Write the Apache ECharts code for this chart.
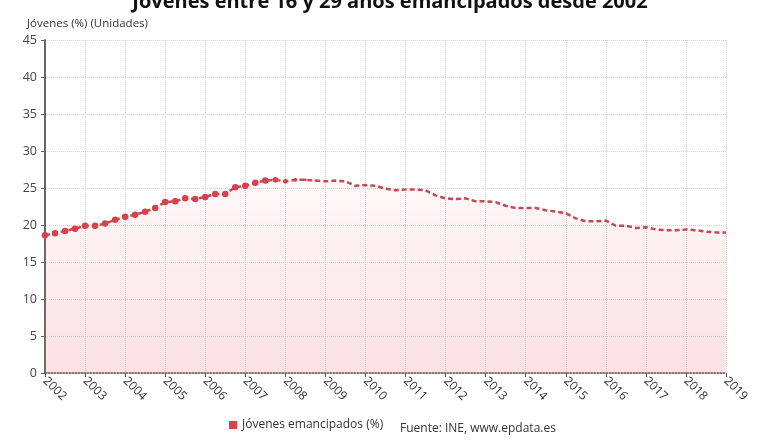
<!DOCTYPE html>
<html>
<head>
<meta charset="utf-8">
<script src="https://cdn.jsdelivr.net/npm/echarts@6/dist/echarts.min.js"></script>
<style>html,body{margin:0;padding:0;background:#fff}#c{width:780px;height:440px}</style>
</head>
<body>
<div id="c"></div>
<script>
var years = ['2002','2003','2004','2005','2006','2007','2008','2009','2010','2011','2012','2013','2014','2015','2016','2017','2018','2019'];
var quarters = [];
years.forEach(function(y, i){
  if (i < years.length - 1) { for (var q = 1; q <= 4; q++) quarters.push(y + 'T' + q); }
  else quarters.push(y + 'T1');
});
var emancipados = [
  18.6, 18.9, 19.2, 19.5,
  19.9, 19.9, 20.2, 20.7,
  21.1, 21.4, 21.8, 22.3,
  23.1, 23.2, 23.6, 23.5,
  23.8, 24.2, 24.2, 25.1,
  25.3, 25.7, 26.0, 26.1,
  25.9, 26.1, 26.1, 26.0,
  25.9, 26.0, 25.9, 25.3,
  25.4, 25.3, 24.9, 24.7,
  24.8, 24.8, 24.7, 24.0,
  23.6, 23.5, 23.6, 23.2,
  23.2, 23.1, 22.6, 22.3,
  22.3, 22.3, 22.0, 21.8,
  21.6, 20.9, 20.5, 20.5,
  20.6, 19.9, 19.9, 19.6,
  19.7, 19.4, 19.3, 19.3,
  19.4, 19.3, 19.1, 19.0,
  19.0
];
var chart = echarts.init(document.getElementById('c'));
chart.setOption({
  animation: false,
  title: {
    text: 'Jóvenes entre 16 y 29 años emancipados desde 2002',
    left: 'center', top: -13,
    textStyle: { fontFamily: 'Open Sans', fontWeight: 'bold', fontSize: 20, color: '#111' }
  },
  legend: {
    bottom: 4, left: 224,
    icon: 'rect', itemWidth: 8, itemHeight: 8, itemGap: 6,
    textStyle: { fontFamily: 'Open Sans', fontSize: 12, color: '#333' },
    data: ['Jóvenes emancipados (%)']
  },
  graphic: [{
    type: 'text', left: 400, bottom: 5,
    style: { text: 'Fuente: INE, www.epdata.es', fontFamily: 'Open Sans', fontSize: 12, fill: '#333' }
  }],
  grid: { left: 45, right: 54, top: 40, bottom: 67 },
  xAxis: {
    type: 'category', data: quarters, boundaryGap: false,
    axisLine: { lineStyle: { color: '#555', type: 'dotted', width: 1.5 } },
    axisTick: { interval: 3, length: 4, lineStyle: { color: '#555' } },
    axisLabel: {
      interval: 3, rotate: -45, margin: 6,
      fontFamily: 'Open Sans', fontSize: 12, color: '#333',
      formatter: function(v){ return v.substring(0,4); }
    },
    splitLine: { show: true, interval: 3, lineStyle: { color: '#d4d4d4', type: 'dotted' } }
  },
  yAxis: {
    type: 'value', min: 0, max: 45, interval: 5,
    name: 'Jóvenes (%) (Unidades)', nameLocation: 'end', nameGap: 10,
    nameTextStyle: { fontFamily: 'Open Sans', fontSize: 11.5, color: '#333', align: 'left', padding: [0,0,0,-18] },
    axisLine: { show: true, lineStyle: { color: '#666', width: 2 } },
    axisTick: { show: true, length: 4, lineStyle: { color: '#666' } },
    axisLabel: { fontFamily: 'Open Sans', fontSize: 12.5, color: '#444', margin: 8 },
    splitLine: { lineStyle: { color: '#d4d4d4', type: 'dotted' } }
  },
  series: [{
    name: 'Jóvenes emancipados (%)', type: 'line', data: emancipados,
    color: '#d9404a',
    symbol: 'circle',
    symbolSize: function(v, p){
      var i = p.dataIndex;
      if (i <= 22) return 6.5;
      var s = 6.5 - (i - 22) * 0.9;
      return s > 0 ? s : 0;
    },
    showAllSymbol: true,
    itemStyle: { color: '#d9404a' },
    lineStyle: { color: '#c24a56', width: 2.5, type: [5, 3] },
    areaStyle: {
      origin: 'start',
      color: new echarts.graphic.LinearGradient(0, 0, 0, 1, [
        { offset: 0, color: 'rgba(240,120,130,0.08)' },
        { offset: 1, color: 'rgba(240,120,130,0.32)' }
      ])
    }
  }]
});
</script>
</body>
</html>
